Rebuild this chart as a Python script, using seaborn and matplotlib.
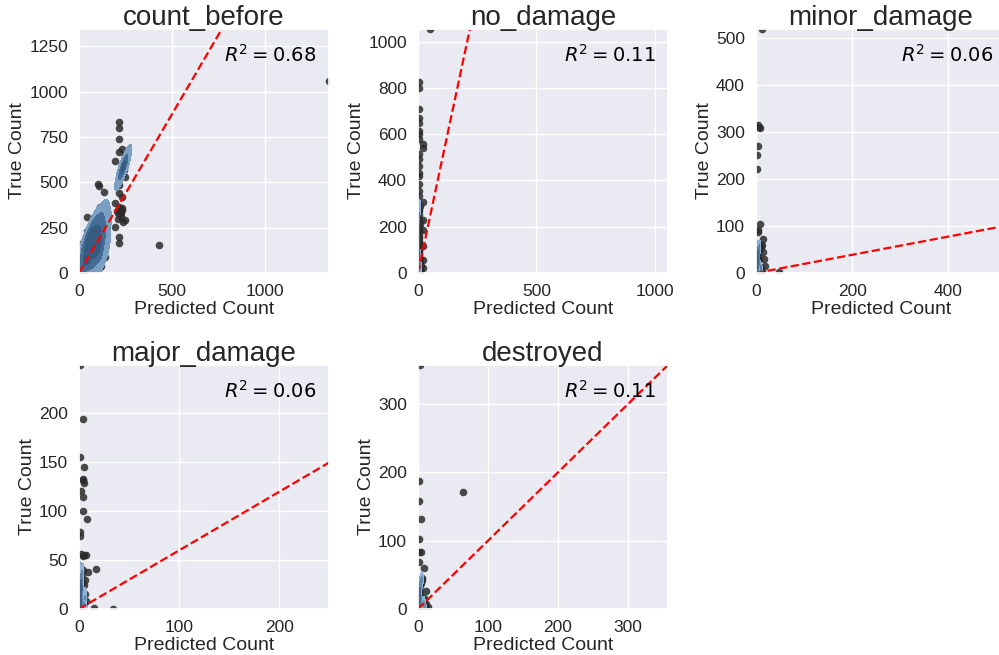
import matplotlib
matplotlib.use('Agg')
import matplotlib.pyplot as plt
import seaborn as sns
from matplotlib.ticker import MultipleLocator

titles = ['count_before', 'no_damage', 'minor_damage', 'major_damage', 'destroyed']
r2_values = [0.68, 0.11, 0.06, 0.06, 0.11]
fit_slopes = [1.75, 4.82, 0.194, 0.60, 1.0]

# count_before: dense points (shown as density blobs) and sparse points
pred_count_before_core = [8, 12, 15, 18, 22, 26, 30, 34, 38, 42, 46, 50, 54, 58, 62, 66, 70, 74, 78, 82,
                          86, 90, 94, 98, 102, 106, 110, 114, 118, 122, 126, 130, 134, 138, 142, 146, 150,
                          120, 100, 70, 60, 90, 140, 25, 45, 80, 108, 115, 125, 95,
                          232, 236, 240, 238, 242, 235, 245, 240]
true_count_before_core = [15, 60, 110, 30, 140, 85, 175, 45, 120, 200, 70, 155, 230, 100, 190, 260, 130, 215,
                          280, 75, 165, 240, 300, 120, 200, 270, 320, 150, 230, 290, 100, 180, 250, 310, 140,
                          210, 270,
                          40, 30, 20, 50, 60, 90, 10, 20, 110, 95, 180, 330, 200,
                          560, 575, 590, 605, 620, 545, 600, 570]
pred_count_before_sparse = [216, 216, 216, 234, 216, 193, 241, 100, 109, 134, 216, 216, 193, 216, 211, 115,
                            120, 100, 43, 43, 193, 238, 216, 216, 429, 112, 10, 211, 205, 230, 247, 250, 248,
                            225, 230, 228, 233, 1345]
true_count_before_sparse = [831, 800, 736, 683, 669, 618, 579, 490, 479, 449, 486, 440, 384, 365, 333, 365,
                            360, 340, 311, 233, 253, 281, 197, 168, 153, 35, 160, 296, 340, 420, 530, 290, 650,
                            330, 345, 310, 360, 1060]

pred_no_damage_core = [2, 3, 4, 5, 6, 3, 4, 5, 2, 6, 7, 3, 4, 5, 8, 2, 3, 6, 4, 5, 7, 9, 3, 4, 5, 6, 10, 12, 8]
true_no_damage_core = [10, 30, 50, 70, 90, 110, 130, 150, 170, 190, 210, 230, 250, 270, 290, 20, 60, 100, 140,
                       180, 40, 15, 80, 120, 160, 200, 5, 30, 60]
pred_no_damage_sparse = [52, 5, 5, 3, 4, 4, 5, 4, 5, 20, 20, 4, 4, 3, 4, 3, 4, 6, 20, 20, 20, 22, 20, 23, 5, 4]
true_no_damage_sparse = [1055, 824, 798, 711, 672, 650, 614, 600, 578, 556, 542, 513, 491, 433, 419, 383, 354,
                         332, 306, 231, 188, 115, 58, 22, 462, 276]

pred_minor_damage_core = [1, 2, 3, 4, 5, 6, 2, 3, 4, 5, 7, 8, 1, 3, 5, 9, 2, 4, 6, 10, 3, 11, 12]
true_minor_damage_core = [5, 10, 15, 20, 25, 30, 35, 40, 45, 50, 55, 60, 65, 8, 18, 12, 28, 38, 48, 5, 22, 10, 3]
pred_minor_damage_sparse = [12.6, 3.6, 9, 6, 4, 2, 2, 8, 5, 4, 14, 47, 12, 15, 10, 16, 18]
true_minor_damage_sparse = [520, 315, 308, 312, 270, 251, 221, 104, 92, 88, 73, 2, 60, 45, 55, 30, 15]

pred_major_damage_core = [0.5, 1, 1.5, 2, 2.5, 3, 1, 2, 3, 4, 0.5, 1.5, 2.5, 5, 6, 1, 2, 3, 4, 7]
true_major_damage_core = [2, 5, 8, 12, 16, 20, 25, 30, 35, 40, 44, 10, 3, 6, 15, 18, 22, 28, 2, 8]
pred_major_damage_sparse = [1, 4.3, 1, 4.6, 3.5, 4, 4.6, 2, 4, 3.5, 8, 1, 1, 2, 5, 7, 4, 9.2, 17, 15, 34, 6, 5]
true_major_damage_sparse = [249.5, 194, 155.5, 145, 133, 131.6, 128.8, 120.6, 115, 100, 92, 78.6, 75, 56, 55, 55,
                            54.6, 37.6, 41.3, 1, 0.3, 30, 25]

pred_destroyed_core = [0.5, 1, 1.5, 2, 2.5, 3, 1, 2, 3, 4, 5, 6, 1.5, 2.5, 3.5, 7, 8, 9, 10]
true_destroyed_core = [2, 6, 10, 14, 18, 22, 26, 30, 34, 38, 42, 46, 3, 8, 12, 5, 10, 2, 4]
pred_destroyed_sparse = [2.3, 1.9, 1.9, 64.8, 4.7, 2, 2, 4.7, 1.9, 8.6, 4.7, 11.9, 8.6, 12, 14]
true_destroyed_sparse = [357, 186.6, 158, 170.5, 131.5, 102, 83, 83, 68.7, 59.4, 39, 26.8, 16, 8, 3]

core_preds = [pred_count_before_core, pred_no_damage_core, pred_minor_damage_core,
              pred_major_damage_core, pred_destroyed_core]
core_trues = [true_count_before_core, true_no_damage_core, true_minor_damage_core,
              true_major_damage_core, true_destroyed_core]
sparse_preds = [pred_count_before_sparse, pred_no_damage_sparse, pred_minor_damage_sparse,
                pred_major_damage_sparse, pred_destroyed_sparse]
sparse_trues = [true_count_before_sparse, true_no_damage_sparse, true_minor_damage_sparse,
                true_major_damage_sparse, true_destroyed_sparse]

sns.set_theme(style="darkgrid")
plt.rcParams['font.family'] = ['Liberation Sans', 'DejaVu Sans']

fig, axes = plt.subplots(2, 3, figsize=(9.99, 6.55), dpi=100)
axes = axes.flatten()
axes[5].axis('off')

# axes boxes in pixels: left, top (figure is 999 x 655)
boxes = [(79, 29), (418, 29), (756, 29), (79, 365), (418, 365)]
tick_steps = [(500, 250), (500, 200), (200, 100), (100, 50), (100, 100)]
blob_cmap = sns.blend_palette(['#a8c6e4', '#4f78a3', '#33557a'], as_cmap=True)

for i in range(5):
    ax = axes[i]
    left, top = boxes[i]
    ax.set_position([left / 999, 1 - (top + 244) / 655, 250 / 999, 244 / 655])

    pred = core_preds[i] + sparse_preds[i]
    true = core_trues[i] + sparse_trues[i]

    sns.scatterplot(x=pred, y=true, ax=ax, s=30, color='#2b2b2b', alpha=0.85, linewidth=0)
    sns.kdeplot(x=core_preds[i], y=core_trues[i], ax=ax, fill=True, cmap=blob_cmap,
                thresh=0.1, levels=4, bw_adjust=0.75)
    ax.axline((0, 0), slope=fit_slopes[i], color='red', linestyle='--', linewidth=1.6)

    lim = max(max(pred), max(true))
    ax.set_xlim(0, lim)
    ax.set_ylim(0, lim)
    ax.xaxis.set_major_locator(MultipleLocator(tick_steps[i][0]))
    ax.yaxis.set_major_locator(MultipleLocator(tick_steps[i][1]))
    ax.tick_params(labelsize=12.5, pad=2)

    ax.set_title(titles[i], fontsize=20, pad=3)
    ax.set_xlabel('Predicted Count', fontsize=14, labelpad=1)
    ax.set_ylabel('True Count', fontsize=14, labelpad=2)
    ax.text(0.95, 0.94, f'$R^2 = {r2_values[i]:.2f}$', transform=ax.transAxes,
            ha='right', va='top', fontsize=14, color='black')

plt.savefig('out.png', dpi=100)
